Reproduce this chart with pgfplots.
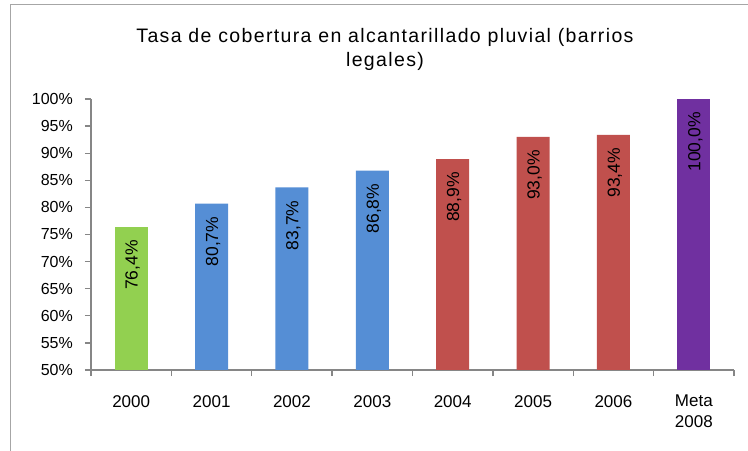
\documentclass[border=0pt]{standalone}
\usepackage{fontspec}
\setmainfont{Liberation Sans}
\newfontfamily\titlefont[LetterSpace=7]{Liberation Sans}
\usepackage{pgfplots}
\pgfplotsset{compat=1.18}
\definecolor{cgreen}{HTML}{92D050}
\definecolor{cblue}{HTML}{558ED5}
\definecolor{cred}{HTML}{C0504D}
\definecolor{cpurple}{HTML}{7030A0}
\definecolor{axgray}{HTML}{868686}
\definecolor{framegray}{HTML}{A6A6A6}
\begin{document}
\begin{tikzpicture}
\useasboundingbox (0,0) rectangle (748bp,451bp);
\draw[framegray, line width=1bp] (10bp,0) -- (10bp,446bp) -- (748bp,446bp);
\node[align=center, font=\titlefont\fontsize{19.5bp}{24bp}\selectfont] at (385bp,402bp) {Tasa de cobertura en alcantarillado pluvial (barrios\\legales)};
\begin{axis}[
  at={(91bp,81bp)}, anchor=south west,
  scale only axis, width=643bp, height=271bp,
  xmin=-0.5, xmax=7.5, ymin=50, ymax=100,
  axis x line*=bottom, axis y line*=left,
  axis line style={axgray, line width=1.3bp},
  xtick={0,...,7},
  xticklabels={2000,2001,2002,2003,2004,2005,2006,{Meta\\2008}},
  major x tick style={draw=none},
  minor xtick={-0.5,0.5,...,7.5},
  minor tick length=6bp,
  minor x tick style={axgray, line width=1.3bp},
  ytick={50,55,...,100},
  yticklabel={\pgfmathprintnumber{\tick}\%},
  major tick length=6bp,
  tick align=outside,
  ytick style={axgray, line width=1.3bp},
  /pgf/number format/assume math mode=true,
  xticklabel style={font=\fontsize{17bp}{21bp}\selectfont, align=center, inner sep=0pt, anchor=north, yshift=-19bp},
  yticklabel style={font=\fontsize{16bp}{19bp}\selectfont, inner sep=0pt, xshift=-12bp},
  ybar, bar width=33bp, bar shift=0pt,
  nodes near coords={\pgfmathprintnumber[fixed,fixed zerofill,precision=1,use comma]{\pgfplotspointmeta}\%},
  nodes near coords style={font=\fontsize{17.5bp}{20bp}\selectfont, text=black, yshift=-13bp, xshift=1.5bp, rotate=90, anchor=east, inner sep=0pt},
]
\addplot[fill=cgreen, draw=none] coordinates {(0,76.4)};
\addplot[fill=cblue, draw=none] coordinates {(1,80.7) (2,83.7) (3,86.8)};
\addplot[fill=cred, draw=none] coordinates {(4,88.9) (5,93.0) (6,93.4)};
\addplot[fill=cpurple, draw=none] coordinates {(7,100.0)};
\end{axis}
\end{tikzpicture}
\end{document}
